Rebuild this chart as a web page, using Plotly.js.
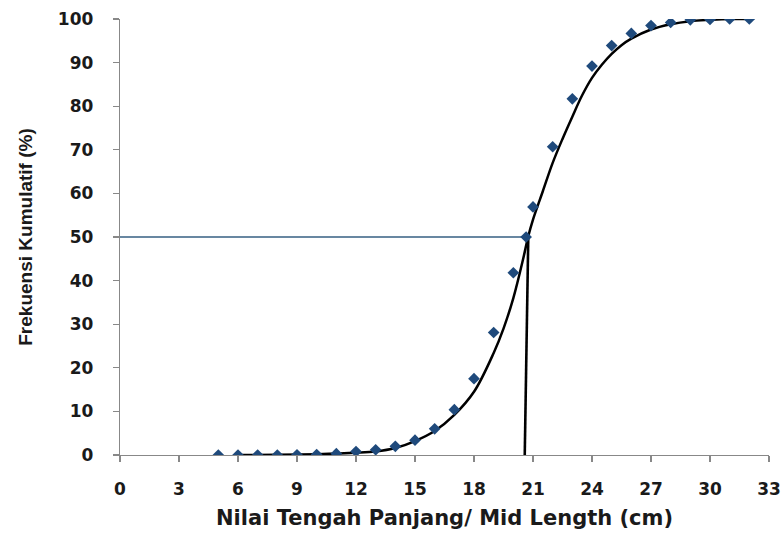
<!DOCTYPE html>
<html>
<head>
<meta charset="utf-8">
<script src="https://cdn.plot.ly/plotly-3.0.1.min.js"></script>
<style>html,body{margin:0;padding:0;background:#fff;}#chart{width:782px;height:538px;}</style>
</head>
<body>
<div id="chart"></div>
<script>
// Observed cumulative frequency (%) by mid length (cm)
var midLength = [5,6,7,8,9,10,11,12,13,14,15,16,17,18,19,20,21,22,23,24,25,26,27,28,29,30,31,32];
var cumFreq   = [0,0,0,0,0.05,0.1,0.3,0.8,1.2,2.0,3.4,6.0,10.4,17.5,28.1,41.8,56.9,70.7,81.7,89.2,93.9,96.7,98.5,99.2,99.8,99.9,100,100];

// Fitted logistic curve
var curveX = [6,8,10,12,13,14,15,16,17,18,19,19.5,20,20.5,20.75,21,21.5,22,22.5,23,23.5,24,24.5,25,25.5,26,27,28,29,30,31,32];
var curveY = [0,0.05,0.2,0.5,0.8,1.6,3.2,5.5,9.2,14.5,23.4,29,36,45,50,54,60.5,67,72.5,77.6,82.5,86.5,89.5,92,94,95.5,97.6,98.8,99.5,99.8,100,100];

// L50 point and guide lines
var l50X = [20.65];
var l50Y = [50];
var hLineX = [0, 20.65];
var hLineY = [50, 50];
var vLineX = [20.58, 20.76];
var vLineY = [0, 50];

var xTicks = [0,3,6,9,12,15,18,21,24,27,30,33];
var yTicks = [0,10,20,30,40,50,60,70,80,90,100];

var tickFont = {family: 'DejaVu Sans, Verdana, sans-serif', size: 17, color: '#1a1a1a', weight: 'bold'};

var traces = [
  {x: hLineX, y: hLineY, mode: 'lines', line: {color: '#365f82', width: 1.7}, hoverinfo: 'skip'},
  {x: curveX, y: curveY, mode: 'lines', line: {color: '#000000', width: 2.5, shape: 'spline', smoothing: 1}},
  {x: vLineX, y: vLineY, mode: 'lines', line: {color: '#000000', width: 2.6}},
  {x: midLength, y: cumFreq, mode: 'markers', marker: {symbol: 'diamond', size: 9, color: '#1f4a7c'}},
  {x: l50X, y: l50Y, mode: 'markers', marker: {symbol: 'diamond', size: 9, color: '#1f4a7c'}}
];

var layout = {
  width: 782, height: 538,
  margin: {l: 120, r: 13, t: 19, b: 82.5, pad: 0},
  paper_bgcolor: '#ffffff', plot_bgcolor: '#ffffff',
  showlegend: false,
  xaxis: {
    range: [0, 33], tickvals: xTicks, ticktext: xTicks.map(String),
    showgrid: false, zeroline: false,
    showline: true, linecolor: '#888888', linewidth: 1.3,
    ticks: 'outside', ticklen: 6, tickcolor: '#888888', tickwidth: 1.3,
    tickfont: tickFont, ticklabelstandoff: 12,
    title: {text: 'Nilai Tengah Panjang/ Mid Length (cm)', standoff: 12,
            font: {family: 'DejaVu Sans, Verdana, sans-serif', size: 21, color: '#1a1a1a', weight: 'bold'}}
  },
  yaxis: {
    range: [0, 100], tickvals: yTicks, ticktext: yTicks.map(String),
    showgrid: false, zeroline: false,
    showline: true, linecolor: '#888888', linewidth: 1.3,
    ticks: 'outside', ticklen: 6, tickcolor: '#888888', tickwidth: 1.3,
    tickfont: tickFont, ticklabelstandoff: 16,
    title: {text: 'Frekuensi Kumulatif (%)', standoff: 20,
            font: {family: 'Liberation Sans, Arial, sans-serif', size: 19, color: '#1a1a1a', weight: 'bold'}}
  }
};

Plotly.newPlot('chart', traces, layout, {displayModeBar: false, staticPlot: true});
</script>
</body>
</html>
